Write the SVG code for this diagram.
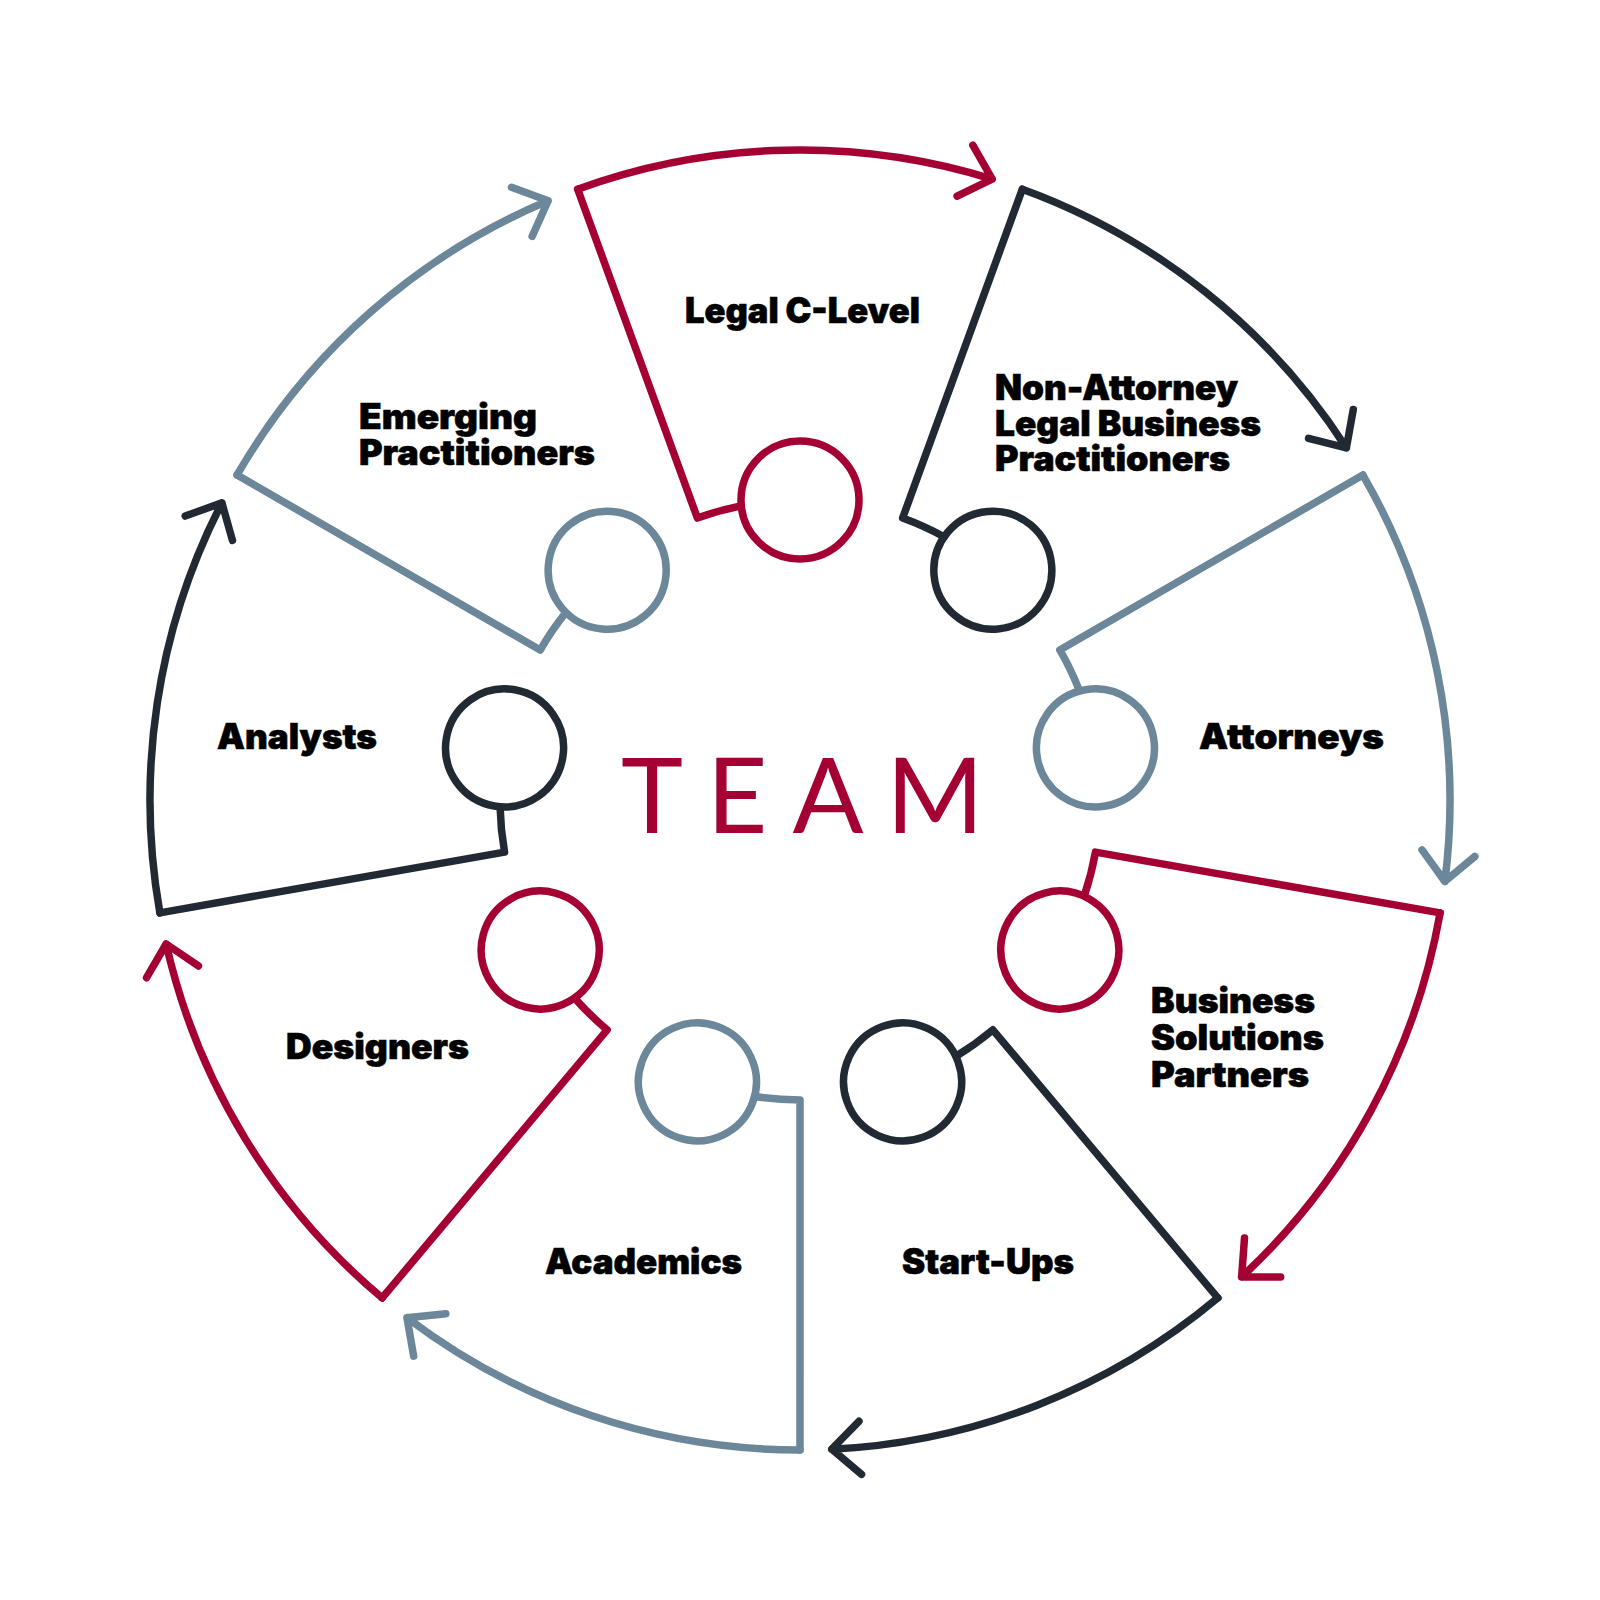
<svg xmlns="http://www.w3.org/2000/svg" width="1600" height="1600" viewBox="0 0 1600 1600">
<style>
.ln{fill:none;stroke-width:7.5;stroke-linecap:round;stroke-linejoin:round}
.red{stroke:#A50034}
.dark{stroke:#212A32}
.gray{stroke:#6B8799}
.lbl{font-family:Inter,Roboto,"Noto Sans","Liberation Sans",sans-serif;font-weight:900;font-size:35px;fill:#000;stroke:#000;stroke-width:0.6}
.team{font-family:Lato,"Open Sans","Liberation Sans",sans-serif;font-weight:400;font-size:105px;fill:#A50034}
</style>
<defs>
<path id="wedge" class="ln" d="M741.01,505.86 A300,300 0 0 0 697.39,518.09 L577.69,189.20"/>
<circle id="ring" class="ln" cx="800" cy="500" r="59"/>
<path id="arc" class="ln" d="M577.69,189.20 A650,650 0 0 1 992.21,179.07 M972.83,145.23 L992.21,179.07 L957.10,196.04"/>
</defs>
<rect width="1600" height="1600" fill="#fff"/>
<g id="connectors">
<use href="#arc" class="red" transform="rotate(0 800 800)"/>
<use href="#arc" class="dark" transform="rotate(40 800 800)"/>
<use href="#arc" class="gray" transform="rotate(80 800 800)"/>
<use href="#arc" class="red" transform="rotate(120 800 800)"/>
<use href="#arc" class="dark" transform="rotate(160 800 800)"/>
<use href="#arc" class="gray" transform="rotate(200 800 800)"/>
<use href="#arc" class="red" transform="rotate(240 800 800)"/>
<use href="#arc" class="dark" transform="rotate(280 800 800)"/>
<use href="#arc" class="gray" transform="rotate(320 800 800)"/>
</g>
<g id="node-legal-c-level">
<use href="#wedge" class="red" transform="rotate(0 800 800)"/>
<use href="#ring" class="red" transform="rotate(0 800 800)"/>
<text class="lbl" x="685" y="323" textLength="235" lengthAdjust="spacingAndGlyphs">Legal C-Level</text>
</g>
<g id="node-non-attorney">
<use href="#wedge" class="dark" transform="rotate(40 800 800)"/>
<use href="#ring" class="dark" transform="rotate(40 800 800)"/>
<text class="lbl" x="995" y="400" textLength="243" lengthAdjust="spacingAndGlyphs">Non-Attorney</text>
<text class="lbl" x="995" y="436" textLength="266" lengthAdjust="spacingAndGlyphs">Legal Business</text>
<text class="lbl" x="995" y="471" textLength="235" lengthAdjust="spacingAndGlyphs">Practitioners</text>
</g>
<g id="node-attorneys">
<use href="#wedge" class="gray" transform="rotate(80 800 800)"/>
<use href="#ring" class="gray" transform="rotate(80 800 800)"/>
<text class="lbl" x="1199" y="749" textLength="185" lengthAdjust="spacingAndGlyphs">Attorneys</text>
</g>
<g id="node-business-solutions-partners">
<use href="#wedge" class="red" transform="rotate(120 800 800)"/>
<use href="#ring" class="red" transform="rotate(120 800 800)"/>
<text class="lbl" x="1151" y="1013" textLength="164" lengthAdjust="spacingAndGlyphs">Business</text>
<text class="lbl" x="1151" y="1050" textLength="173" lengthAdjust="spacingAndGlyphs">Solutions</text>
<text class="lbl" x="1151" y="1087" textLength="158" lengthAdjust="spacingAndGlyphs">Partners</text>
</g>
<g id="node-start-ups">
<use href="#wedge" class="dark" transform="rotate(160 800 800)"/>
<use href="#ring" class="dark" transform="rotate(160 800 800)"/>
<text class="lbl" x="902" y="1274" textLength="172" lengthAdjust="spacingAndGlyphs">Start-Ups</text>
</g>
<g id="node-academics">
<use href="#wedge" class="gray" transform="rotate(200 800 800)"/>
<use href="#ring" class="gray" transform="rotate(200 800 800)"/>
<text class="lbl" x="545" y="1274" textLength="197" lengthAdjust="spacingAndGlyphs">Academics</text>
</g>
<g id="node-designers">
<use href="#wedge" class="red" transform="rotate(240 800 800)"/>
<use href="#ring" class="red" transform="rotate(240 800 800)"/>
<text class="lbl" x="286" y="1059" textLength="183" lengthAdjust="spacingAndGlyphs">Designers</text>
</g>
<g id="node-analysts">
<use href="#wedge" class="dark" transform="rotate(280 800 800)"/>
<use href="#ring" class="dark" transform="rotate(280 800 800)"/>
<text class="lbl" x="217" y="749" textLength="160" lengthAdjust="spacingAndGlyphs">Analysts</text>
</g>
<g id="node-emerging-practitioners">
<use href="#wedge" class="gray" transform="rotate(320 800 800)"/>
<use href="#ring" class="gray" transform="rotate(320 800 800)"/>
<text class="lbl" x="359" y="429" textLength="178" lengthAdjust="spacingAndGlyphs">Emerging</text>
<text class="lbl" x="359" y="465" textLength="236" lengthAdjust="spacingAndGlyphs">Practitioners</text>
</g>
<g id="center-title">
<text class="team" y="833" text-anchor="middle"><tspan x="652">T</tspan><tspan x="737">E</tspan><tspan x="828">A</tspan><tspan x="935">M</tspan></text>
</g>
</svg>
